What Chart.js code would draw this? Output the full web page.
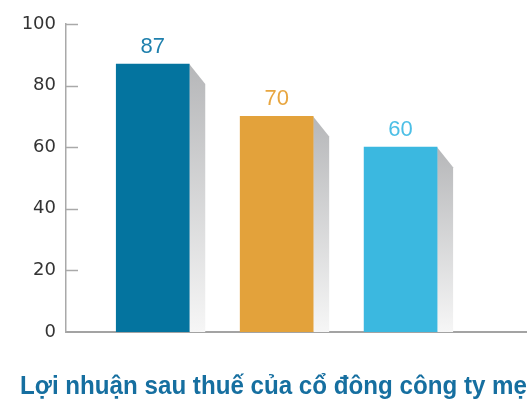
<!DOCTYPE html>
<html>
<head>
<meta charset="utf-8">
<script src="https://cdn.jsdelivr.net/npm/chart.js@4.4.1/dist/chart.umd.min.js"></script>
<style>
  html, body { margin: 0; padding: 0; background: #fff; }
  #wrap { width: 527px; height: 402px; }
</style>
</head>
<body>
<div id="wrap"><canvas id="profit-chart"></canvas></div>
<script>
// Chart values
const categories = ['Cột 1', 'Cột 2', 'Cột 3'];
const positions = [1, 2, 3];
const profitValues = [87, 70, 60];
const barColors = ['#04749f', '#e3a23b', '#3bb8e0'];
const labelColors = ['#1f80ad', '#e8a640', '#4cbfe6'];
const yTicks = [0, 20, 40, 60, 80, 100];
const chartTitle = 'Lợi nhuận sau thuế của cổ đông công ty mẹ';

document.addEventListener("DOMContentLoaded", function () {
if (typeof Chart === 'undefined') {
  console.error('Chart.js is not loaded.');
  return;
}
const canvas = document.getElementById('profit-chart');
const ctx = canvas.getContext('2d');

// grey slanted shadow on the right of each bar
const barShadow = {
  id: 'barShadow',
  beforeDatasetsDraw(chart) {
    const c = chart.ctx;
    const meta = chart.getDatasetMeta(0);
    meta.data.forEach(bar => {
      const right = bar.x + bar.width / 2;
      const top = bar.y;
      const base = bar.base;
      const grad = c.createLinearGradient(0, top, 0, base);
      grad.addColorStop(0, '#b6b7b9');
      grad.addColorStop(1, '#f6f6f6');
      c.save();
      c.fillStyle = grad;
      c.beginPath();
      c.moveTo(right, top);
      c.lineTo(right + 16, top + 20);
      c.lineTo(right + 16, base);
      c.lineTo(right, base);
      c.closePath();
      c.fill();
      c.restore();
    });
  }
};

// value labels above bars + inward tick marks on y axis
const extras = {
  id: 'extras',
  afterDatasetsDraw(chart) {
    const c = chart.ctx;
    const meta = chart.getDatasetMeta(0);
    c.save();
    c.font = '22px "Liberation Sans", Arial, sans-serif';
    c.textAlign = 'center';
    c.textBaseline = 'alphabetic';
    meta.data.forEach((bar, i) => {
      c.fillStyle = labelColors[i];
      c.fillText(String(profitValues[i]), bar.x, bar.y - 11);
    });
    const yScale = chart.scales.y;
    const x0 = chart.chartArea.left;
    c.strokeStyle = '#a9a9a9';
    c.lineWidth = 1.5;
    yTicks.forEach(v => {
      if (v === 0) return;
      const py = Math.round(yScale.getPixelForValue(v)) + 0.5;
      c.beginPath();
      c.moveTo(x0, py);
      c.lineTo(x0 + 12, py);
      c.stroke();
    });
    c.restore();
  }
};

new Chart(ctx, {
  type: 'bar',
  data: {
    labels: categories,
    datasets: [{
      label: chartTitle,
      data: positions.map((p, i) => ({ x: p, y: profitValues[i] })),
      backgroundColor: barColors,
      borderWidth: 0,
      barThickness: 73
    }]
  },
  options: {
    responsive: true,
    maintainAspectRatio: false,
    animation: false,
    layout: { padding: { left: 20, right: 0, top: 24, bottom: 0 } },
    scales: {
      x: {
        type: 'linear',
        offset: false,
        min: 0.3,
        max: 4.02,
        grid: { display: false, drawTicks: false },
        border: { display: true, color: '#a3a3a3', width: 2 },
        ticks: { display: false }
      },
      y: {
        min: 0,
        max: 100,
        afterBuildTicks(scale) { scale.ticks = yTicks.map(v => ({ value: v })); },
        afterFit(scale) { scale.width = 46; },
        grid: { display: false, drawTicks: false },
        border: { display: true, color: '#a9a9a9', width: 1.5 },
        ticks: {
          padding: 10,
          color: '#333333',
          font: { family: '"DejaVu Sans", sans-serif', size: 18 }
        }
      }
    },
    plugins: {
      legend: { display: false },
      tooltip: { enabled: false },
      title: {
        display: true,
        text: chartTitle,
        position: 'bottom',
        align: 'start',
        color: '#166fa0',
        font: { family: '"Liberation Sans", Arial, sans-serif', size: 25, weight: 'bold' },
        padding: { top: 40, bottom: 0 }
      }
    }
  },
  plugins: [barShadow, extras]
});
});
</script>
</body>
</html>
